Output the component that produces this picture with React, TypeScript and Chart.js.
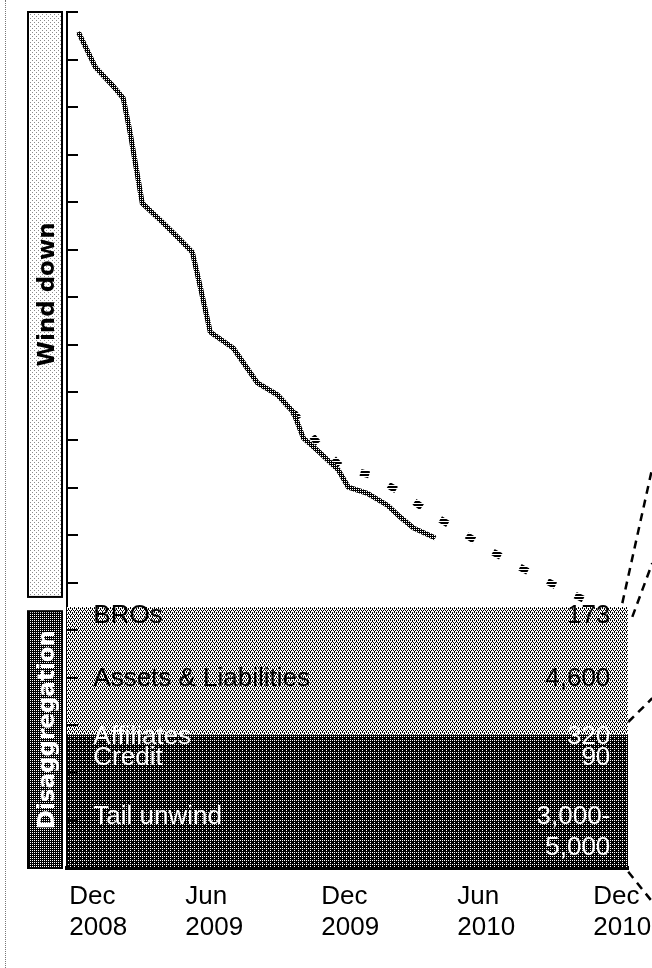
import React, { useEffect, useRef } from "react";
import { Chart, registerables } from "chart.js";

Chart.register(...registerables);

// ---- data ----
const xTickValues = [0.88, 6, 12, 18, 24];
const xTickLabels = [
  ["Dec", "2008"],
  ["Jun", "2009"],
  ["Dec", "2009"],
  ["Jun", "2010"],
  ["Dec", "2010"],
];

// months since Dec 2008
const actualMonths = [0, 0.75, 1.5, 1.98, 2.29, 2.82, 3.62, 4.41, 5.03, 5.38, 5.82, 6.84, 7.9, 8.78, 9.48, 9.93, 10.67, 11.47, 11.91, 12.75, 13.63, 14.2, 14.78, 15.75];
const actualValues = [17.58, 16.84, 16.46, 16.19, 15.45, 13.98, 13.62, 13.25, 12.95, 12.22, 11.27, 10.93, 10.2, 9.95, 9.59, 9.04, 8.73, 8.37, 8.01, 7.88, 7.63, 7.38, 7.15, 6.94];

const projectedMonths = [9.48, 10.45, 11.56, 13.01, 14.34, 15.66, 16.98, 18.31, 19.81, 21.17, 22.81];
const projectedValues = [9.59, 9.0, 8.45, 8.24, 7.86, 7.42, 7.04, 6.64, 6.24, 5.91, 5.53];

const tailBandTop = 2.8;
const upperBandTop = 5.49;

const bandNames = ["BROs", "Assets & Liabilities", "Affiliates", "Credit", "Tail unwind"];
const bandAmounts = [["173"], ["4,600"], ["320"], ["90"], ["3,000-", "5,000"]];
const bandTextLevels = [5.3, 3.98, 2.76, 2.32, 1.08];

const sectionNames = ["Wind down", "Disaggregation"];
const sectionRanges = [
  [5.7, 18],
  [0, 5.4],
];

const connectorLines = [
  [[24.0, 5.57], [25.32, 8.41]],
  [[24.44, 5.28], [25.32, 6.41]],
  [[24.26, 3.07], [25.32, 3.57]],
  [[24.26, -0.08], [25.32, -0.71]],
];

const X_MIN = -0.5;
const X_MAX = 24.25;
const NAME_X = 0.66;
const AMOUNT_X = 23.47;

function makePattern(w: number, h: number, bg: string, fg: string, pts: number[][]) {
  const c = document.createElement("canvas");
  c.width = w;
  c.height = h;
  const g = c.getContext("2d")!;
  g.fillStyle = bg;
  g.fillRect(0, 0, w, h);
  g.fillStyle = fg;
  pts.forEach(([px, py]) => g.fillRect(px, py, 1, 1));
  return g.createPattern(c, "repeat")!;
}

export default function App() {
  const ref = useRef<HTMLCanvasElement | null>(null);

  useEffect(() => {
    if (!ref.current) return;
    const lightPat = makePattern(4, 4, "#ffffff", "#000000", [[0, 0], [2, 0], [1, 2], [3, 2], [0, 1], [2, 3]]);
    const darkPat = makePattern(4, 4, "#000000", "#ffffff", [[0, 0], [2, 2], [2, 0]]);
    const linePat = makePattern(2, 2, "#ffffff", "#000000", [[0, 0], [1, 1], [1, 0]]);
    const projPat = makePattern(1, 3, "#ffffff", "#000000", [[0, 0], [0, 1]]);
    const windBoxPat = makePattern(4, 4, "#ffffff", "#8a8a8a", [[0, 0], [2, 2]]);
    const disBoxPat = makePattern(2, 2, "#000000", "#ffffff", [[0, 0]]);

    const decor = {
      id: "decor",
      afterDatasetsDraw(chart: any) {
        const { ctx, scales, chartArea } = chart;
        const x = scales.x;
        const y = scales.y;
        ctx.save();
        // inward y tick marks
        ctx.strokeStyle = "#000";
        ctx.lineWidth = 2;
        y.ticks.forEach((t: any) => {
          const py = Math.round(y.getPixelForValue(t.value));
          ctx.beginPath();
          ctx.moveTo(chartArea.left, py);
          ctx.lineTo(chartArea.left + 11, py);
          ctx.stroke();
        });
        // band texts
        ctx.font = '26px "Liberation Sans", Arial, sans-serif';
        ctx.textBaseline = "middle";
        bandNames.forEach((name, i) => {
          ctx.fillStyle = i < 2 ? "#000" : "#fff";
          const py = y.getPixelForValue(bandTextLevels[i]);
          ctx.textAlign = "left";
          ctx.fillText(name, x.getPixelForValue(NAME_X), py);
          ctx.textAlign = "right";
          bandAmounts[i].forEach((a, j) => {
            ctx.fillText(a, x.getPixelForValue(AMOUNT_X), py + j * 31);
          });
        });
        // section boxes
        sectionNames.forEach((name, i) => {
          const [lo, hi] = sectionRanges[i];
          const top = y.getPixelForValue(hi);
          const bottom = y.getPixelForValue(lo);
          const left = chartArea.left - 39;
          const right = chartArea.left - 5;
          ctx.fillStyle = i === 0 ? windBoxPat : disBoxPat;
          ctx.fillRect(left, top, right - left, bottom - top);
          ctx.strokeStyle = "#000";
          ctx.lineWidth = 2;
          ctx.strokeRect(left, top, right - left, bottom - top);
          ctx.save();
          ctx.translate(left + 20, (top + bottom) / 2 - 10);
          ctx.rotate(-Math.PI / 2);
          ctx.textAlign = "center";
          ctx.textBaseline = "middle";
          ctx.fillStyle = i === 0 ? "#000" : "#fff";
          ctx.font = 'bold 23px "DejaVu Sans", sans-serif';
          ctx.fillText(name, 0, 0);
          ctx.restore();
        });
        ctx.restore();
      },
    };

    const connectorSets = connectorLines.map((seg) => ({
      type: "line" as const,
      data: seg.map(([mx, v]) => ({ x: mx, y: v })),
      borderColor: "#000",
      borderWidth: 2.5,
      borderDash: [8, 6],
      pointRadius: 0,
      fill: false,
      clip: false as any,
      order: 0,
    }));

    const chart = new Chart(ref.current, {
      type: "line",
      data: {
        datasets: [
          {
            data: [{ x: X_MIN, y: tailBandTop }, { x: X_MAX, y: tailBandTop }],
            backgroundColor: darkPat,
            borderColor: "rgba(0,0,0,0)",
            borderWidth: 0,
            pointRadius: 0,
            fill: "origin",
            order: 10,
          },
          {
            data: [{ x: X_MIN, y: upperBandTop }, { x: X_MAX, y: upperBandTop }],
            backgroundColor: lightPat,
            borderColor: "rgba(0,0,0,0)",
            borderWidth: 0,
            pointRadius: 0,
            fill: "-1",
            order: 9,
          },
          {
            data: projectedMonths.map((m, i) => ({ x: m, y: projectedValues[i] })),
            borderColor: projPat,
            borderWidth: 7,
            borderDash: [9, 22],
            pointRadius: 0,
            fill: false,
            order: 2,
          },
          {
            data: actualMonths.map((m, i) => ({ x: m, y: actualValues[i] })),
            borderColor: linePat,
            borderWidth: 5,
            pointRadius: 0,
            fill: false,
            order: 1,
          },
          ...connectorSets,
        ] as any,
      },
      options: {
        animation: false,
        responsive: false,
        devicePixelRatio: 1,
        events: [],
        layout: { padding: { left: 67, right: 24, top: 12, bottom: 0 } },
        plugins: {
          legend: { display: false },
          tooltip: { enabled: false },
        },
        elements: { line: { tension: 0 } },
        scales: {
          x: {
            type: "linear",
            min: X_MIN,
            max: X_MAX,
            afterBuildTicks: (s: any) => {
              s.ticks = xTickValues.map((v) => ({ value: v }));
            },
            afterFit: (s: any) => {
              s.height = 100;
              s.paddingLeft = 0;
              s.paddingRight = 0;
            },
            grid: { display: false },
            border: { display: true, color: "#000", width: 4 },
            ticks: {
              autoSkip: false,
              align: "start",
              labelOffset: -29,
              padding: 5,
              color: "#000",
              font: { family: '"Liberation Sans", Arial, sans-serif', size: 26, lineHeight: 1.2 },
              callback: (_v: any, i: number) => xTickLabels[i],
            },
          },
          y: {
            type: "linear",
            min: 0,
            max: 18,
            ticks: { display: false, stepSize: 1 },
            grid: { display: false, drawTicks: false },
            border: { display: true, color: "#000", width: 2 },
          },
        },
      } as any,
      plugins: [decor],
    });
    return () => chart.destroy();
  }, []);

  return (
    <div style={{ position: "absolute", left: 0, top: 0, width: 652, height: 968, background: "#fff" }}>
      <div
        style={{
          position: "absolute",
          left: 5,
          top: 0,
          width: 0,
          height: 968,
          borderLeft: "1px dotted #777",
        }}
      />
      <canvas ref={ref} width={652} height={968} style={{ position: "absolute", left: 0, top: 0, display: "block" }} />
    </div>
  );
}
